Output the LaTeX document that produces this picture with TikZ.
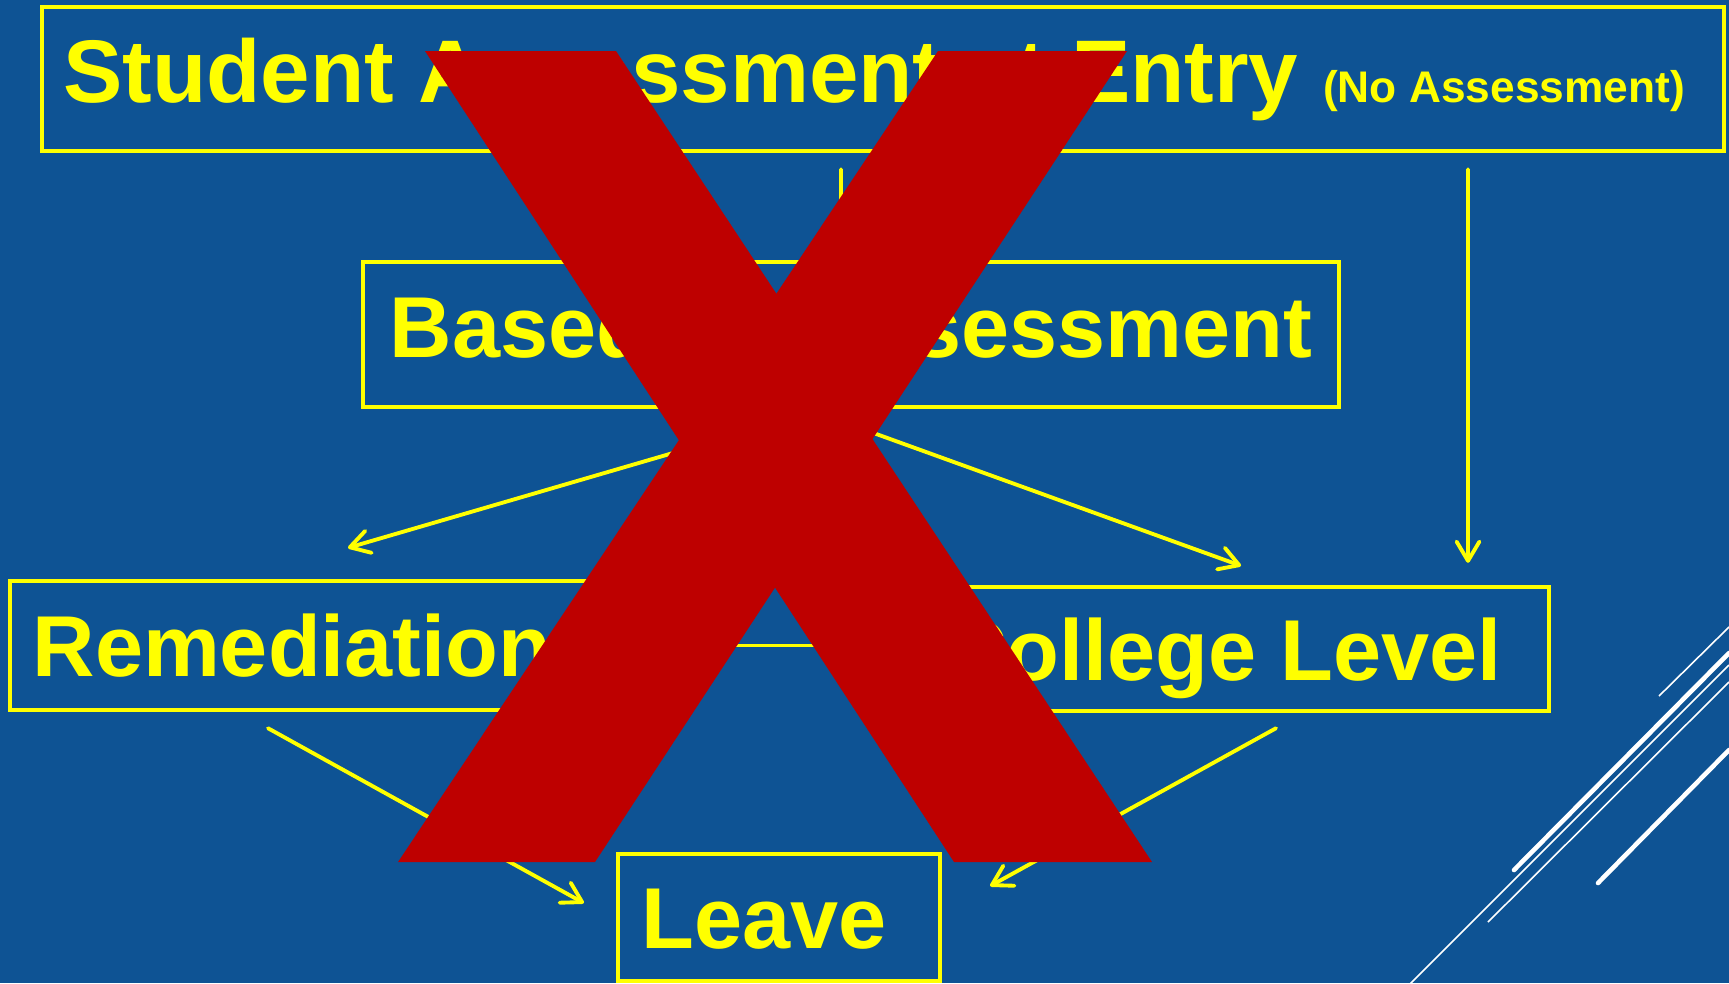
\documentclass[tikz,border=0pt]{standalone}
\usepackage{fontspec}
\setmainfont{Liberation Sans}
\usetikzlibrary{arrows.meta}
\definecolor{slideblue}{HTML}{0E5394}
\definecolor{boxyellow}{HTML}{FFFF00}
\definecolor{crossred}{HTML}{BE0000}
\tikzset{
  flowbox/.style={draw=boxyellow, line width=1.25pt, text=boxyellow, inner sep=0pt,
                  font=\bfseries\fontsize{24.6}{28}\selectfont,
                  text height=6.2mm, text depth=1.6mm},
  lowbox/.style={flowbox, text depth=0mm},
  flowarrow/.style={draw=boxyellow, line width=1.1pt, line cap=round,
                    -{Straight Barb[length=5.5pt,width=6.5pt,round]}},
  flowline/.style={draw=boxyellow, line width=1.1pt},
  xband/.style={fill=crossred},
  stripe/.style={white, line width=0.45pt},
  thickstripe/.style={white, line width=1.3pt, line cap=round},
}

\begin{document}
\begin{tikzpicture}
    \useasboundingbox (0,0) rectangle (17.29,-9.83);
    \clip (0,0) rectangle (17.29,-9.83);
    \fill[slideblue] (0,0) rectangle (17.29,-9.83);

    \node[flowbox, minimum width=16.82cm, minimum height=1.44cm] (entry) at (8.83,-0.79)
      {\fontsize{25.3}{28}\selectfont Student Assessment at Entry {\fontsize{12.6}{14}\selectfont (No Assessment)}\kern1.8mm};
    \node[flowbox, minimum width=9.76cm, minimum height=1.45cm] (based) at (8.51,-3.345) {Based on Assessment};
    \node[lowbox, minimum width=5.90cm, minimum height=1.29cm] (remed) at (3.05,-6.455) {Remediation\kern2.6mm};
    \node[lowbox, minimum width=6.52cm, minimum height=1.24cm] (college) at (12.23,-6.49) {College Level};
    \node[lowbox, minimum width=3.22cm, minimum height=1.27cm] (leave) at (7.79,-9.175) {Leave\kern3mm};

    \draw[flowarrow] ([xshift=-4.2mm,yshift=-1.6mm]entry.south) -- ([xshift=-1mm,yshift=0.4mm]based.north);
    \draw[flowarrow] ([xshift=58.5mm,yshift=-1.6mm]entry.south) -- ([xshift=24.5mm,yshift=2.2mm]college.north);
    \draw[flowarrow] ([xshift=-4.5mm,yshift=-0.5mm]based.south) -- ([xshift=4.3mm,yshift=3.1mm]remed.north);
    \draw[flowarrow] ([xshift=-3.5mm,yshift=-0.3mm]based.south) -- ([xshift=1.8mm,yshift=1.9mm]college.north);
    \draw[flowarrow] ([xshift=-3.7mm,yshift=-1.6mm]remed.south) -- ([xshift=-3.2mm,yshift=1.45mm]leave.west);
    \draw[flowarrow] ([xshift=5.3mm,yshift=-1.5mm]college.south) -- ([xshift=4.8mm,yshift=3.15mm]leave.east);
    \draw[flowline] (remed.east) -- (remed.east -| college.west);

    \draw[stripe] (16.59,-6.96) -- (17.29,-6.27);
    \draw[thickstripe] (15.14,-8.70) -- (17.29,-6.53);
    \draw[stripe] (14.10,-9.84) -- (17.29,-6.65);
    \draw[stripe] (14.88,-9.22) -- (17.29,-6.82);
    \draw[thickstripe] (15.98,-8.83) -- (17.29,-7.50);

    \fill[xband] (4.25,-0.51) -- (6.16,-0.51) -- (11.52,-8.62) -- (9.54,-8.62) -- cycle;
    \fill[xband] (9.38,-0.51) -- (11.27,-0.51) -- (5.95,-8.62) -- (3.98,-8.62) -- cycle;
  \end{tikzpicture}
\end{document}
